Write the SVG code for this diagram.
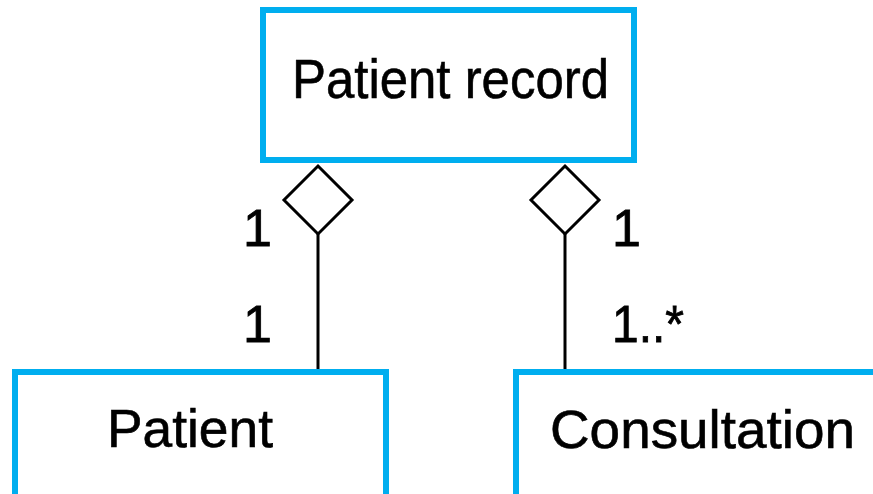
<svg xmlns="http://www.w3.org/2000/svg" width="873" height="494" viewBox="0 0 873 494">
  <style>
    .box { fill: #ffffff; stroke: #00AEEF; stroke-width: 6; }
    .title { font-family: "Liberation Sans", Arial, sans-serif; fill: #000; stroke: #000; stroke-width: 0.6; text-anchor: middle; }
    .mult { font-family: "Liberation Sans", Arial, sans-serif; font-size: 52px; fill: #000; stroke: #000; stroke-width: 0.8; }
    .conn { stroke: #000; stroke-width: 3; fill: none; }
    .diamond { fill: #ffffff; stroke: #000; stroke-width: 3; stroke-linejoin: miter; }
  </style>
  <rect width="873" height="494" fill="#ffffff"/>
  <g id="connectors">
    <line class="conn" x1="318" y1="234" x2="318" y2="372"/>
    <polygon class="diamond" points="318,166 352,200 318,234 284,200"/>
    <line class="conn" x1="565" y1="234" x2="565" y2="372"/>
    <polygon class="diamond" points="565,166 599,200 565,234 531,200"/>
    <text class="mult" x="243" y="246">1</text>
    <text class="mult" x="243" y="342">1</text>
    <text class="mult" x="612" y="246">1</text>
    <text class="mult" x="612" y="342" textLength="72" lengthAdjust="spacingAndGlyphs">1..*</text>
  </g>
  <g id="patient-record">
    <rect class="box" x="263" y="10" width="371" height="150"/>
    <text class="title" x="450.5" y="98" font-size="56" textLength="317" lengthAdjust="spacingAndGlyphs">Patient record</text>
  </g>
  <g id="patient">
    <rect class="box" x="15" y="372" width="371" height="140"/>
    <text class="title" x="190" y="447" font-size="53" textLength="166" lengthAdjust="spacingAndGlyphs">Patient</text>
  </g>
  <g id="consultation">
    <rect class="box" x="516" y="372" width="380" height="140"/>
    <text class="title" x="702.5" y="448" font-size="53" textLength="305" lengthAdjust="spacingAndGlyphs">Consultation</text>
  </g>
</svg>
